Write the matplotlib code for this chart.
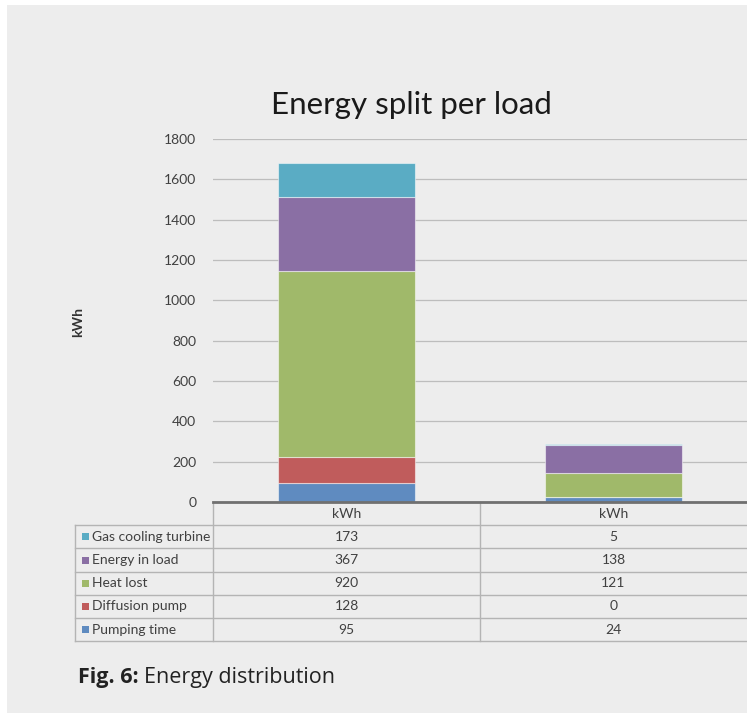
import matplotlib
matplotlib.use('Agg')
import matplotlib.pyplot as plt
from matplotlib.patches import Rectangle
import numpy as np

# data
columns = ['kWh', 'kWh']
series = ['Pumping time', 'Diffusion pump', 'Heat lost', 'Energy in load', 'Gas cooling turbine']
pumping = [95, 24]
diffusion = [128, 0]
heat_lost = [920, 121]
energy_load = [367, 138]
gas_cooling = [173, 5]
colors = ['#5f8bc0', '#c05c5c', '#a0b96a', '#8a6fa4', '#5aacc4']
yticks = [0, 200, 400, 600, 800, 1000, 1200, 1400, 1600, 1800]

values = [pumping, diffusion, heat_lost, energy_load, gas_cooling]

W, H = 747, 713
fig = plt.figure(figsize=(W / 100, H / 100), dpi=100)
fig.patch.set_facecolor('white')

# grey page background with thin white strip at top/left
bg = fig.add_axes([0, 0, 1, 1])
bg.set_xlim(0, W)
bg.set_ylim(H, 0)
bg.axis('off')
bg.add_patch(Rectangle((7, 5), W, H, facecolor='#ededed', edgecolor='none'))

# main chart
ax = fig.add_axes([213 / W, 1 - 502 / H, 1 - 213 / W, (502 - 139) / H])
ax.set_facecolor('none')
x = np.arange(len(columns))
bottom = np.zeros(len(columns))
for vals, c in zip(values, colors):
    ax.bar(x, vals, width=0.51, bottom=bottom, color=c,
           edgecolor=(1, 1, 1, 0.5), linewidth=0.8, zorder=3)
    bottom += np.array(vals)

ax.set_xlim(-0.5, len(columns) - 0.5)
ax.set_ylim(0, 1800)
ax.set_yticks(yticks)
ax.set_yticklabels([str(t) for t in yticks], fontsize=10, family='Lato', color='#404040')
ax.tick_params(axis='y', length=0, pad=12)
ax.set_xticks([])
ax.grid(axis='y', color='#bdbdbd', linewidth=0.9, zorder=0)
for s in ['top', 'right', 'left']:
    ax.spines[s].set_visible(False)
ax.spines['bottom'].set_color('#707070')
ax.spines['bottom'].set_linewidth(2)
ax.spines['bottom'].set_zorder(4)

fig.text(78 / W, 1 - 322 / H, 'kWh', rotation=90, ha='center', va='center',
         fontsize=10, fontweight='bold', family='Lato', color='#333333')

fig.text(411 / W, 1 - 105 / H, 'Energy split per load', ha='center', va='center',
         fontsize=22.5, family='Lato', color='#1a1a1a')

# data table under the chart, drawn in pixel coordinates
lc = '#b4b4b4'
col_edges = [213, 480, 747]
row_top = 502
row_h = 23.2
label_left = 75
n_rows = len(series)
table_bottom = row_top + row_h * (n_rows + 1)
bg.plot([col_edges[0], col_edges[0]], [row_top, table_bottom], color=lc, lw=1)
bg.plot([col_edges[1], col_edges[1]], [row_top, table_bottom], color=lc, lw=1)
bg.plot([label_left, label_left], [row_top + row_h, table_bottom], color=lc, lw=1)
bg.plot([label_left, W], [table_bottom, table_bottom], color=lc, lw=1)
for i in range(n_rows):
    yl = row_top + row_h * (i + 1)
    bg.plot([label_left, W], [yl, yl], color=lc, lw=1)

tf = dict(fontsize=10, family='Lato', color='#404040')
for j, name in enumerate(columns):
    xc = (col_edges[j] + col_edges[j + 1]) / 2
    bg.text(xc, row_top + row_h / 2, name, ha='center', va='center', **tf)

for i in range(n_rows):
    k = n_rows - 1 - i
    yc = row_top + row_h * (i + 1.5)
    bg.add_patch(Rectangle((82, yc - 3.5), 7, 7, facecolor=colors[k], edgecolor='none'))
    bg.text(92, yc, series[k], ha='left', va='center', **tf)
    for j in range(len(columns)):
        xc = (col_edges[j] + col_edges[j + 1]) / 2
        bg.text(xc, yc, str(values[k][j]), ha='center', va='center', **tf)

# caption
t = bg.text(78, 678, 'Fig. 6:', ha='left', va='center', fontsize=15.5,
            fontweight='bold', family='Open Sans', color='#222222')
fig.canvas.draw()
bb = t.get_window_extent()
x_end = bg.transData.inverted().transform((bb.x1, bb.y0))[0]
bg.text(x_end + 5, 678, 'Energy distribution', ha='left', va='center', fontsize=15.5,
        family='Open Sans', color='#222222')

fig.savefig('out.png', dpi=100, facecolor=fig.get_facecolor())
